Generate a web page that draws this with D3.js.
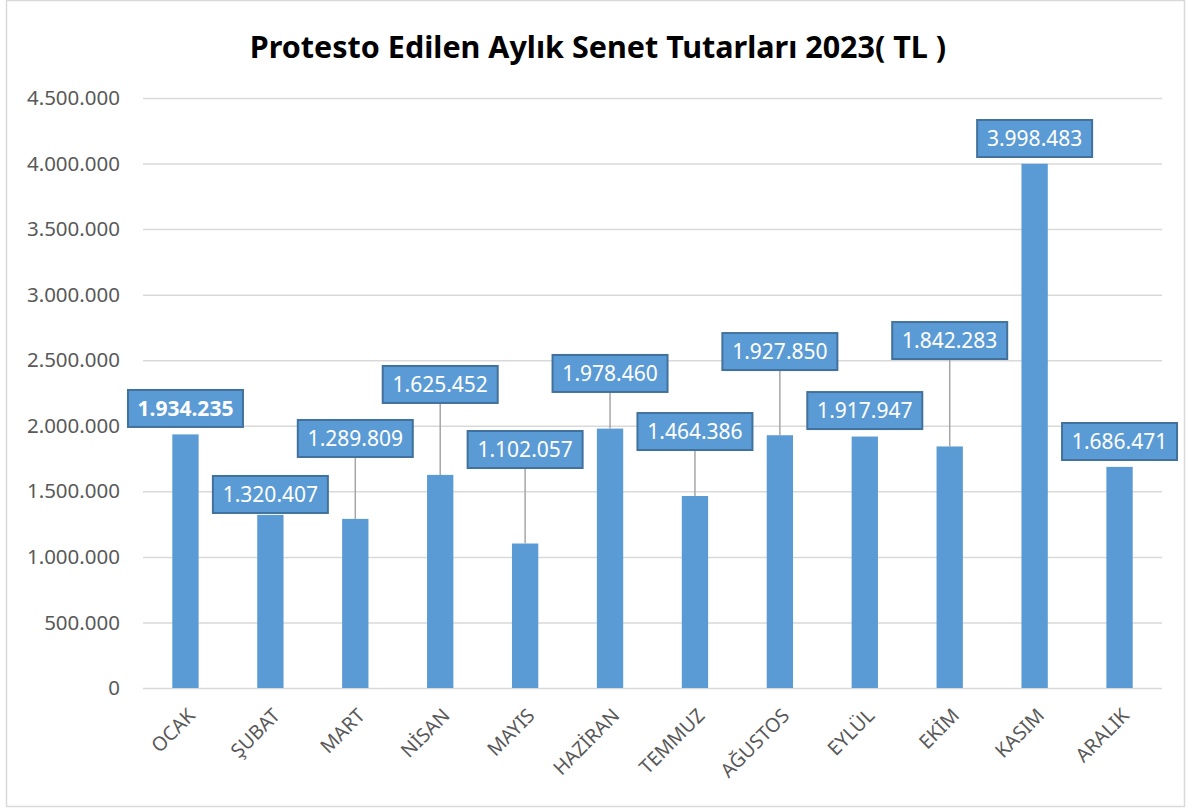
<!DOCTYPE html>
<html>
<head>
<meta charset="utf-8">
<script src="https://cdn.jsdelivr.net/npm/d3@7"></script>
<style>
	body { margin: 0; background: #fff; }
	text { font-family: "Noto Sans", "Open Sans", sans-serif; }
</style>
</head>
<body>
<svg id="chart" width="1187" height="810"></svg>
<script>
"use strict"

//
// data
//
var months = ["OCAK", "ŞUBAT", "MART", "NİSAN", "MAYIS", "HAZİRAN",
	"TEMMUZ", "AĞUSTOS", "EYLÜL", "EKİM", "KASIM", "ARALIK"];
var amounts = [1934235, 1320407, 1289809, 1625452, 1102057, 1978460,
	1464386, 1927850, 1917947, 1842283, 3998483, 1686471];
// where each data label was dragged to (value at the bottom edge of the label box)
var labelAt = [1991000, 1335000, 1762000, 2174000, 1678000, 2258000,
	1815000, 2425000, 1975000, 2509000, 4050000, 1739000];
var yTicks = [0, 500000, 1000000, 1500000, 2000000, 2500000, 3000000, 3500000, 4000000, 4500000];
var title = "Protesto Edilen Aylık Senet Tutarları 2023( TL )";

var W = 1187, H = 810;
var margin = {left: 143, right: 25, top: 98, bottom: 122};
var BAR_FILL = "#5b9bd5";
var BOX_STROKE = "#41719c";
var GRID = "#d9d9d9";
var AXIS_TEXT = "#595959";

// thousands separator is a dot
var fmt = function(v) {
	return d3.format(",")(v).replace(/,/g, ".");
};

var svg = d3.select("#chart");

svg.append("rect")
	.attr("x", 6.5).attr("y", 0.5)
	.attr("width", 1178).attr("height", 806)
	.attr("fill", "#fff")
	.attr("stroke", GRID)
	.attr("stroke-width", 1.5)
	;

var x = d3.scaleBand()
	.domain(months)
	.range([margin.left, W - margin.right])
	.paddingInner(0.69)
	.paddingOuter(0.345)
	;
var y = d3.scaleLinear()
	.domain([0, 4500000])
	.range([H - margin.bottom, margin.top])
	;

//
// gridlines + y axis
//
var yAxis = d3.axisLeft(y)
	.tickValues(yTicks)
	.tickSize(-(W - margin.right - margin.left))
	.tickPadding(23)
	.tickFormat(fmt)
	;
var gy = svg.append("g")
	.attr("transform", "translate(" + margin.left + ",0)")
	.call(yAxis)
	;
gy.select(".domain").remove();
gy.selectAll(".tick line").attr("stroke", GRID).attr("stroke-width", 1.5);
gy.selectAll(".tick text")
	.attr("fill", AXIS_TEXT)
	.style("font-size", "20.5px")
	;

//
// x axis labels
//
var xAxis = d3.axisBottom(x).tickSize(0).tickPadding(0);
var gx = svg.append("g")
	.attr("transform", "translate(0," + (H - margin.bottom) + ")")
	.call(xAxis)
	;
gx.select(".domain").remove();
gx.selectAll(".tick text")
	.attr("fill", AXIS_TEXT)
	.style("font-size", "19.5px")
	.attr("text-anchor", "end")
	.attr("x", 6)
	.attr("y", 24)
	.attr("dy", "0.35em")
	.attr("transform", "rotate(-45 6 24)")
	;

//
// bars
//
var data = months.map(function(m, i) {
	return {month: m, value: amounts[i], at: labelAt[i], bold: i == 0};
});

svg.append("g").selectAll("rect")
	.data(data)
	.enter().append("rect")
	.attr("x", function(d) { return x(d.month); })
	.attr("y", function(d) { return y(d.value); })
	.attr("width", x.bandwidth())
	.attr("height", function(d) { return y(0) - y(d.value); })
	.attr("fill", BAR_FILL)
	;

//
// data labels with leader lines
//
var boxW = 115, boxH = 37;
var labels = svg.append("g").selectAll("g")
	.data(data)
	.enter().append("g")
	.attr("transform", function(d) {
		return "translate(" + (x(d.month) + x.bandwidth() / 2) + "," + y(d.at) + ")";
	})
	;
labels.filter(function(d) { return y(d.value) - y(d.at) > 10; })
	.append("line")
	.attr("x1", 0).attr("x2", 0)
	.attr("y1", 0)
	.attr("y2", function(d) { return y(d.value) - y(d.at); })
	.attr("stroke", "#a6a6a6")
	.attr("stroke-width", 1.5)
	;
labels.append("rect")
	.attr("x", -boxW / 2)
	.attr("y", -boxH)
	.attr("width", boxW)
	.attr("height", boxH)
	.attr("fill", BAR_FILL)
	.attr("stroke", BOX_STROKE)
	.attr("stroke-width", 2)
	;
labels.append("text")
	.attr("x", 0)
	.attr("y", -boxH / 2)
	.attr("dy", "0.36em")
	.attr("text-anchor", "middle")
	.attr("fill", "#fff")
	.style("font-size", "21px")
	.style("font-weight", function(d) { return d.bold ? "bold" : "normal"; })
	.text(function(d) { return fmt(d.value); })
	;

//
// title
//
svg.append("text")
	.attr("x", 598)
	.attr("y", 58)
	.attr("text-anchor", "middle")
	.attr("fill", "#000")
	.style("font-size", "30.5px")
	.style("font-weight", "bold")
	.text(title)
	;
</script>
</body>
</html>
